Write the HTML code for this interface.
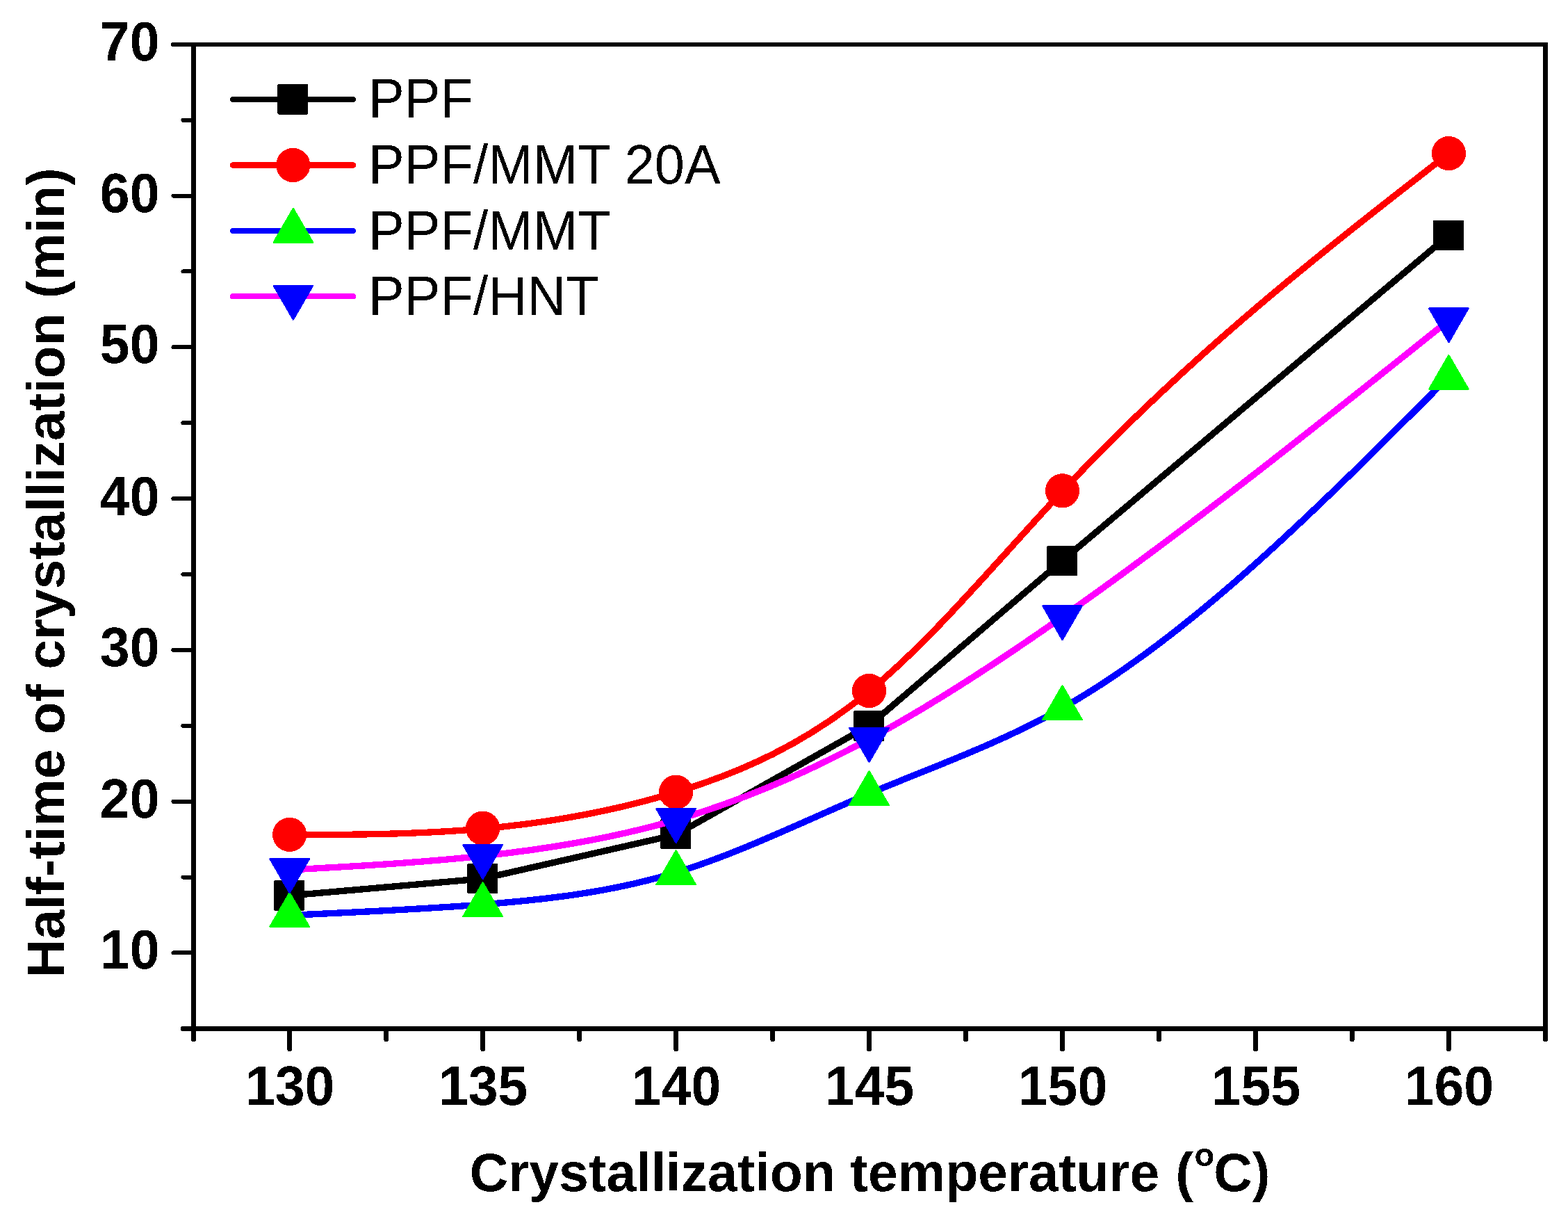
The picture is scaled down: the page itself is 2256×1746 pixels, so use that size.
<!DOCTYPE html>
<html lang="en"><head><meta charset="utf-8"><title>Half-time of crystallization vs crystallization temperature</title>
<style>html,body{margin:0;padding:0;background:#fff;}body{width:2256px;height:1746px;overflow:hidden;}svg{display:block;}text{font-family:'Liberation Sans', sans-serif;fill:#000;}.b{font-weight:700;}</style>
</head><body>
<svg width="2256" height="1746" viewBox="0 0 2256 1746" shape-rendering="crispEdges">
<defs><filter id="bin" x="-5%" y="-20%" width="110%" height="140%" color-interpolation-filters="sRGB"><feComponentTransfer><feFuncA type="discrete" tableValues="0 1"/></feComponentTransfer></filter></defs>
<rect x="0" y="0" width="2256" height="1746" fill="#fff"/>
<g id="series">
<path d="M416.68,1288.08 L694.64,1263.69 L972.6,1200.47 L1250.56,1043.58 L1528.52,806.21 L2084.44,338.39" fill="none" stroke="#000000" stroke-width="9.3" stroke-linejoin="round" stroke-linecap="round"/>
<rect x="394.38" y="1266.28" width="44" height="43.4" rx="1.5" fill="#000000"/>
<rect x="672.34" y="1241.89" width="44" height="43.4" rx="1.5" fill="#000000"/>
<rect x="950.3" y="1177.87" width="44" height="43.4" rx="1.5" fill="#000000"/>
<rect x="1228.26" y="1022.38" width="44" height="43.4" rx="1.5" fill="#000000"/>
<rect x="1506.22" y="785.01" width="44" height="43.4" rx="1.5" fill="#000000"/>
<rect x="2062.14" y="316.59" width="44" height="43.4" rx="1.5" fill="#000000"/>
<path d="M416.68,1200.84 C509.33,1200.47 601.99,1200.1 694.64,1191.89 C787.29,1183.68 879.95,1167.62 972.6,1139.34 C1065.25,1111.07 1157.91,1070.58 1250.56,994.16 C1343.21,917.73 1435.87,805.38 1528.52,706.48 C1713.83,508.69 1899.13,364.74 2084.44,220.79" fill="none" stroke="#ff0000" stroke-width="9.3" stroke-linejoin="round" stroke-linecap="round"/>
<circle cx="416.68" cy="1200.34" r="24.6" fill="#ff0000"/>
<circle cx="694.64" cy="1191.19" r="24.6" fill="#ff0000"/>
<circle cx="972.6" cy="1139.14" r="24.6" fill="#ff0000"/>
<circle cx="1250.56" cy="993.46" r="24.6" fill="#ff0000"/>
<circle cx="1528.52" cy="705.78" r="24.6" fill="#ff0000"/>
<circle cx="2084.44" cy="220.59" r="24.6" fill="#ff0000"/>
<path d="M416.68,1316.34 C509.33,1312.22 601.99,1308.09 694.64,1300.84 C787.29,1293.58 879.95,1283.18 972.6,1254.89 C1065.25,1226.59 1157.91,1180.39 1250.56,1141.38 C1343.21,1102.36 1435.87,1070.55 1528.52,1018.34 C1713.83,913.92 1899.13,727.94 2084.44,541.96" fill="none" stroke="#0000ff" stroke-width="9.3" stroke-linejoin="round" stroke-linecap="round"/>
<polygon points="388.68,1332.74 444.68,1332.74 416.68,1284.34" fill="#00ff00" stroke="#00ff00" stroke-width="2.6" stroke-linejoin="round"/>
<polygon points="666.64,1317.94 722.64,1317.94 694.64,1269.54" fill="#00ff00" stroke="#00ff00" stroke-width="2.6" stroke-linejoin="round"/>
<polygon points="944.6,1271.99 1000.6,1271.99 972.6,1223.59" fill="#00ff00" stroke="#00ff00" stroke-width="2.6" stroke-linejoin="round"/>
<polygon points="1222.56,1157.88 1278.56,1157.88 1250.56,1109.48" fill="#00ff00" stroke="#00ff00" stroke-width="2.6" stroke-linejoin="round"/>
<polygon points="1500.52,1034.84 1556.52,1034.84 1528.52,986.44" fill="#00ff00" stroke="#00ff00" stroke-width="2.6" stroke-linejoin="round"/>
<polygon points="2056.44,559.66 2112.44,559.66 2084.44,511.26" fill="#00ff00" stroke="#00ff00" stroke-width="2.6" stroke-linejoin="round"/>
<path d="M416.68,1251.06 C509.33,1246 601.99,1240.94 694.64,1231.03 C787.29,1221.11 879.95,1206.33 972.6,1179.28 C1065.25,1152.22 1157.91,1112.89 1250.56,1062.91 C1343.21,1012.92 1435.87,952.28 1528.52,887.17 C1713.83,756.95 1899.13,608.85 2084.44,460.75" fill="none" stroke="#ff00ff" stroke-width="9.3" stroke-linejoin="round" stroke-linecap="round"/>
<polygon points="388.68,1235.36 444.68,1235.36 416.68,1283.76" fill="#0000ff" stroke="#0000ff" stroke-width="2.6" stroke-linejoin="round"/>
<polygon points="666.64,1215.33 722.64,1215.33 694.64,1263.73" fill="#0000ff" stroke="#0000ff" stroke-width="2.6" stroke-linejoin="round"/>
<polygon points="944.6,1163.28 1000.6,1163.28 972.6,1211.68" fill="#0000ff" stroke="#0000ff" stroke-width="2.6" stroke-linejoin="round"/>
<polygon points="1222.56,1047.21 1278.56,1047.21 1250.56,1095.61" fill="#0000ff" stroke="#0000ff" stroke-width="2.6" stroke-linejoin="round"/>
<polygon points="1500.52,871.47 1556.52,871.47 1528.52,919.87" fill="#0000ff" stroke="#0000ff" stroke-width="2.6" stroke-linejoin="round"/>
<polygon points="2056.44,443.55 2112.44,443.55 2084.44,491.95" fill="#0000ff" stroke="#0000ff" stroke-width="2.6" stroke-linejoin="round"/>
</g>
<g id="axes" stroke="#000" stroke-linecap="butt" fill="none">
<path d="M278.5,61 V1494.9" stroke-width="7"/>
<path d="M2223.5,61 V1494.9" stroke-width="7"/>
<circle cx="278.5" cy="1494.9" r="3.5" fill="#000" stroke="none"/>
<circle cx="2223.5" cy="1494.9" r="3.5" fill="#000" stroke="none"/>
<path d="M248.6,64 H2223.5" stroke-width="6" stroke-linecap="round"/>
<path d="M263.1,1479.5 H2223.5" stroke-width="7" stroke-linecap="round"/>
<line x1="416.68" y1="1479.5" x2="416.68" y2="1509.15" stroke-width="6.5" stroke-linecap="round"/>
<line x1="555.66" y1="1479.5" x2="555.66" y2="1495.15" stroke-width="6.5" stroke-linecap="round"/>
<line x1="694.64" y1="1479.5" x2="694.64" y2="1509.15" stroke-width="6.5" stroke-linecap="round"/>
<line x1="833.62" y1="1479.5" x2="833.62" y2="1495.15" stroke-width="6.5" stroke-linecap="round"/>
<line x1="972.6" y1="1479.5" x2="972.6" y2="1509.15" stroke-width="6.5" stroke-linecap="round"/>
<line x1="1111.58" y1="1479.5" x2="1111.58" y2="1495.15" stroke-width="6.5" stroke-linecap="round"/>
<line x1="1250.56" y1="1479.5" x2="1250.56" y2="1509.15" stroke-width="6.5" stroke-linecap="round"/>
<line x1="1389.54" y1="1479.5" x2="1389.54" y2="1495.15" stroke-width="6.5" stroke-linecap="round"/>
<line x1="1528.52" y1="1479.5" x2="1528.52" y2="1509.15" stroke-width="6.5" stroke-linecap="round"/>
<line x1="1667.5" y1="1479.5" x2="1667.5" y2="1495.15" stroke-width="6.5" stroke-linecap="round"/>
<line x1="1806.48" y1="1479.5" x2="1806.48" y2="1509.15" stroke-width="6.5" stroke-linecap="round"/>
<line x1="1945.46" y1="1479.5" x2="1945.46" y2="1495.15" stroke-width="6.5" stroke-linecap="round"/>
<line x1="2084.44" y1="1479.5" x2="2084.44" y2="1509.15" stroke-width="6.5" stroke-linecap="round"/>
<line x1="278.5" y1="1370.42" x2="249.4" y2="1370.42" stroke-width="6" stroke-linecap="round"/>
<line x1="278.5" y1="1261.53" x2="263.4" y2="1261.53" stroke-width="6" stroke-linecap="round"/>
<line x1="278.5" y1="1152.65" x2="249.4" y2="1152.65" stroke-width="6" stroke-linecap="round"/>
<line x1="278.5" y1="1043.76" x2="263.4" y2="1043.76" stroke-width="6" stroke-linecap="round"/>
<line x1="278.5" y1="934.88" x2="249.4" y2="934.88" stroke-width="6" stroke-linecap="round"/>
<line x1="278.5" y1="825.99" x2="263.4" y2="825.99" stroke-width="6" stroke-linecap="round"/>
<line x1="278.5" y1="717.11" x2="249.4" y2="717.11" stroke-width="6" stroke-linecap="round"/>
<line x1="278.5" y1="608.22" x2="263.4" y2="608.22" stroke-width="6" stroke-linecap="round"/>
<line x1="278.5" y1="499.34" x2="249.4" y2="499.34" stroke-width="6" stroke-linecap="round"/>
<line x1="278.5" y1="390.45" x2="263.4" y2="390.45" stroke-width="6" stroke-linecap="round"/>
<line x1="278.5" y1="281.57" x2="249.4" y2="281.57" stroke-width="6" stroke-linecap="round"/>
<line x1="278.5" y1="172.68" x2="263.4" y2="172.68" stroke-width="6" stroke-linecap="round"/>
</g>
<g id="ticklabels" class="b" font-size="77" filter="url(#bin)">
<text transform="translate(417.18,1589.2) scale(1,1.04)" text-anchor="middle">130</text>
<text transform="translate(695.14,1589.2) scale(1,1.04)" text-anchor="middle">135</text>
<text transform="translate(973.1,1589.2) scale(1,1.04)" text-anchor="middle">140</text>
<text transform="translate(1251.06,1589.2) scale(1,1.04)" text-anchor="middle">145</text>
<text transform="translate(1529.02,1589.2) scale(1,1.04)" text-anchor="middle">150</text>
<text transform="translate(1806.98,1589.2) scale(1,1.04)" text-anchor="middle">155</text>
<text transform="translate(2084.94,1589.2) scale(1,1.04)" text-anchor="middle">160</text>
<text transform="translate(229.5,1393.42) scale(1,1.04)" text-anchor="end">10</text>
<text transform="translate(229.5,1175.65) scale(1,1.04)" text-anchor="end">20</text>
<text transform="translate(229.5,957.88) scale(1,1.04)" text-anchor="end">30</text>
<text transform="translate(229.5,740.91) scale(1,1.04)" text-anchor="end">40</text>
<text transform="translate(229.5,522.34) scale(1,1.04)" text-anchor="end">50</text>
<text transform="translate(229.5,304.57) scale(1,1.04)" text-anchor="end">60</text>
<text transform="translate(229.5,86.8) scale(1,1.04)" text-anchor="end">70</text>
</g>
<g id="titles" class="b" font-size="77" filter="url(#bin)">
<text transform="translate(1251.5,1713)" text-anchor="middle">Crystallization temperature <tspan dx="1.5">(</tspan><tspan font-size="47" dx="1.5" dy="-36.5">o</tspan><tspan dy="36.5" dx="-1">C)</tspan></text>
<text transform="translate(92,823.8) rotate(-90)" text-anchor="middle" font-size="76.8">Half-time of crystallization (min)</text>
</g>
<g id="legend" filter="url(#bin)">
<line x1="335" y1="143" x2="508" y2="143" stroke="#000000" stroke-width="8.2" stroke-linecap="round"/>
<rect x="399.4" y="121.2" width="44" height="43.4" rx="1.5" fill="#000000"/>
<text transform="translate(530,169.1) scale(1,1.04)" font-size="77.5">PPF</text>
<line x1="335" y1="237.5" x2="508" y2="237.5" stroke="#ff0000" stroke-width="8.2" stroke-linecap="round"/>
<circle cx="421.7" cy="237.5" r="24.6" fill="#ff0000"/>
<text transform="translate(530,263.8) scale(1,1.04)" font-size="77.5">PPF/MMT 20A</text>
<line x1="335" y1="332" x2="508" y2="332" stroke="#0000ff" stroke-width="8.2" stroke-linecap="round"/>
<polygon points="393.9,348.6 449.9,348.6 421.9,300.2" fill="#00ff00" stroke="#00ff00" stroke-width="2.6" stroke-linejoin="round"/>
<text transform="translate(530,359) scale(1,1.04)" font-size="77.5">PPF/MMT</text>
<line x1="335" y1="426.3" x2="508" y2="426.3" stroke="#ff00ff" stroke-width="8.2" stroke-linecap="round"/>
<polygon points="393.9,410.9 449.9,410.9 421.9,459.3" fill="#0000ff" stroke="#0000ff" stroke-width="2.6" stroke-linejoin="round"/>
<text transform="translate(530,453) scale(1,1.04)" font-size="77.5">PPF/HNT</text>
</g>
</svg>
</body></html>
